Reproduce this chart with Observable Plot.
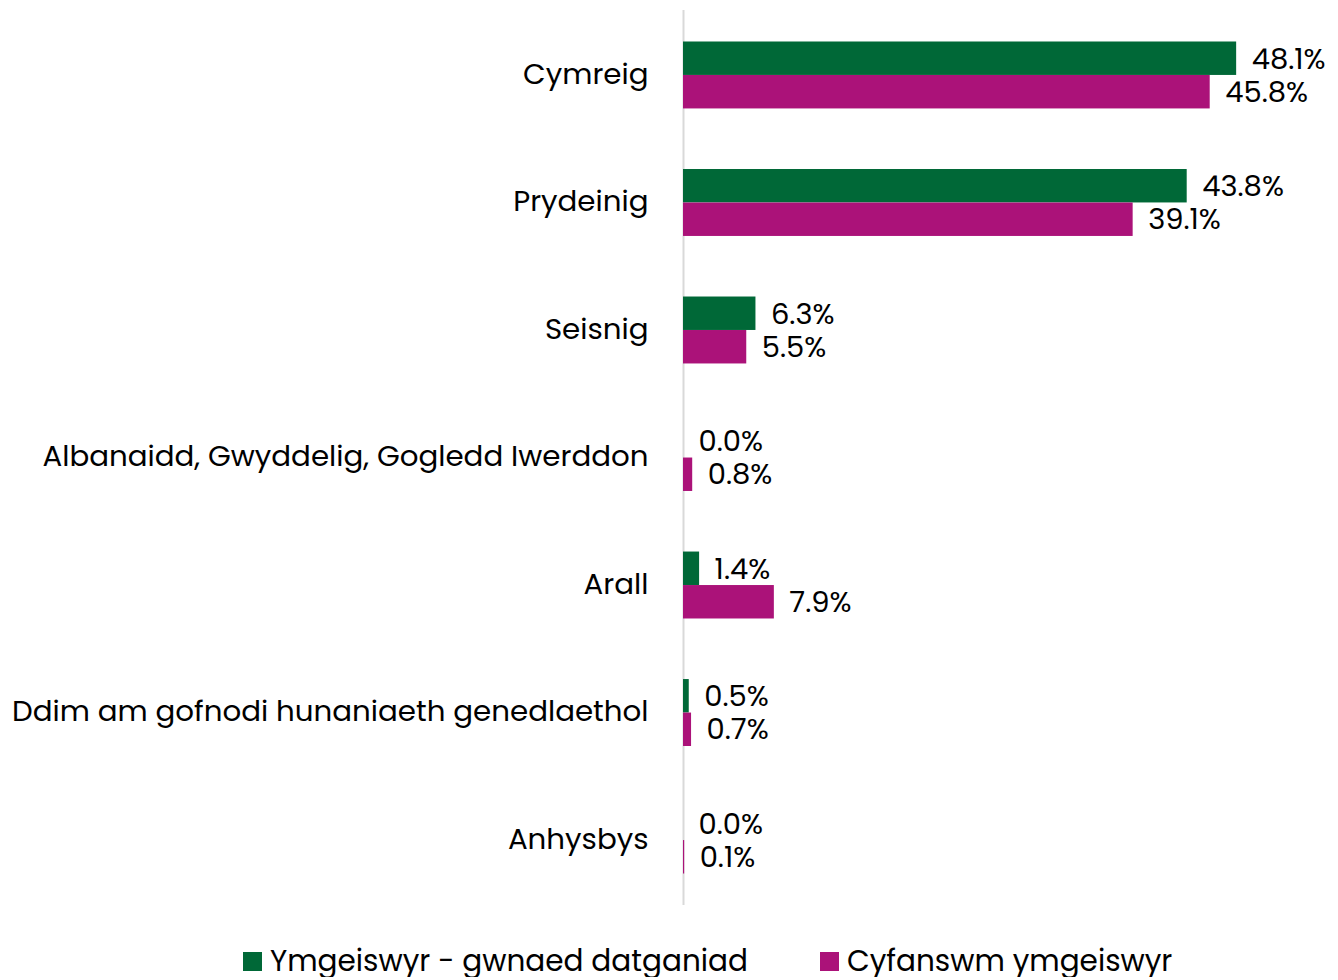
<!DOCTYPE html>
<html>
<head>
<meta charset="utf-8">
<script src="https://cdn.jsdelivr.net/npm/d3@7"></script>
<script src="https://cdn.jsdelivr.net/npm/@observablehq/plot@0.6"></script>
<style>
  body { margin: 0; background: #fff; font-family: Poppins, "Open Sans", sans-serif; }
  #chart svg { display: block; }
  .legend { display: flex; gap: 72px; margin-top: 31px; padding-left: 243px; font-size: 29.5px; color: #000; align-items: center; }
  .legend span.sw { display: inline-block; width: 19px; height: 19px; margin-right: 8px; vertical-align: middle; }
  .legend .item { display: flex; align-items: center; line-height: 1.05; }
</style>
</head>
<body>
<div id="chart"></div>
<div class="legend" id="legend"></div>
<script>
const categories = ["Cymreig", "Prydeinig", "Seisnig", "Albanaidd, Gwyddelig, Gogledd Iwerddon", "Arall", "Ddim am gofnodi hunaniaeth genedlaethol", "Anhysbys"];
const seriesNames = ["Ymgeiswyr - gwnaed datganiad", "Cyfanswm ymgeiswyr"];
const declared = [48.1, 43.8, 6.3, 0.0, 1.4, 0.5, 0.0];
const total = [45.8, 39.1, 5.5, 0.8, 7.9, 0.7, 0.1];
const colors = ["#006837", "#AB1279"];

const dataA = categories.map((c, i) => ({category: c, value: declared[i]}));
const dataB = categories.map((c, i) => ({category: c, value: total[i]}));
const fmt = v => v.toFixed(1) + "%";

const half = 33.5;
const chart = Plot.plot({
  width: 1338,
  height: 915,
  marginTop: 10,
  marginBottom: 10,
  marginLeft: 683,
  marginRight: 80,
  style: {fontFamily: 'Poppins, "Open Sans", sans-serif', fontSize: "29px", color: "#000", background: "#fff"},
  x: {domain: [0, 50], axis: null},
  y: {domain: categories, paddingInner: 0.475, paddingOuter: 0.247, round: false, label: null, axis: null},
  marks: [
    Plot.ruleX([0], {stroke: "#d9d9d9", strokeWidth: 2}),
    Plot.barX(dataA, {x: "value", y: "category", fill: colors[0], insetBottom: half}),
    Plot.barX(dataB, {x: "value", y: "category", fill: colors[1], insetTop: half}),
    Plot.text(dataA, {x: "value", y: "category", text: d => fmt(d.value), dx: 15, dy: -16, textAnchor: "start", fill: "#000", fontSize: 29}),
    Plot.text(dataB, {x: "value", y: "category", text: d => fmt(d.value), dx: 15, dy: 17, textAnchor: "start", fill: "#000", fontSize: 29}),
    Plot.axisY({tickSize: 0, tickPadding: 35, fontSize: 29.3, label: null, dy: -1})
  ]
});
document.getElementById("chart").appendChild(chart);

const legend = document.getElementById("legend");
seriesNames.forEach((n, i) => {
  const item = document.createElement("div");
  item.className = "item";
  const sw = document.createElement("span");
  sw.className = "sw";
  sw.style.background = colors[i];
  item.appendChild(sw);
  item.appendChild(document.createTextNode(n));
  legend.appendChild(item);
});
</script>
</body>
</html>
